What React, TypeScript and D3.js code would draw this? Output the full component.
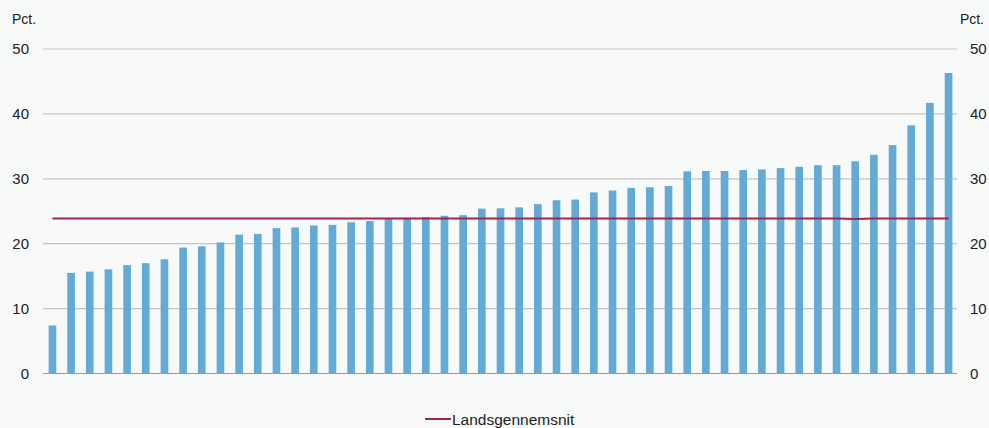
import React from "react";
import * as d3 from "d3";

const W = 989;
const H = 428;

const values: number[] = [
  7.4, 15.5, 15.7, 16.05, 16.7, 17.0, 17.6, 19.4, 19.6, 20.2,
  21.4, 21.5, 22.4, 22.5, 22.8, 22.9, 23.3, 23.5, 23.9, 24.0,
  24.1, 24.3, 24.4, 25.4, 25.45, 25.6, 26.1, 26.7, 26.8, 27.9,
  28.2, 28.6, 28.7, 28.9, 31.15, 31.2, 31.2, 31.35, 31.45, 31.65,
  31.85, 32.1, 32.1, 32.7, 33.7, 35.2, 38.25, 41.7, 46.3,
];
const average: number[] = values.map((_, i) => (i === 43 ? 23.8 : 23.9));
const categories: string[] = values.map((_, i) => `K${i + 1}`);
const yTicks: number[] = [0, 10, 20, 30, 40, 50];
const unitLabel = "Pct.";
const legendLabel = "Landsgennemsnit";

const BAR = "#64aad6";
const LINE = "#a6244c";
const GRID = "#c4c4c4";
const FONT = "'Liberation Sans', Arial, Helvetica, sans-serif";

export default function App() {
  const left = 43;
  const right = 958;
  const top = 49;
  const bottom = 373.5;
  const x = d3.scaleBand<string>().domain(categories).range([left, right]).paddingInner(0.59).paddingOuter(0.3);
  const y = d3.scaleLinear().domain([0, 50]).range([bottom, top]);
  const line = d3
    .line<number>()
    .x((_, i) => (x(categories[i]) as number) + x.bandwidth() / 2)
    .y((d) => y(d));

  return (
    <svg
      width={W}
      height={H}
      style={{ position: "absolute", left: 0, top: 0, background: "#f8f9f9", fontFamily: FONT }}
    >
      <rect x={0} y={0} width={W} height={H} fill="#f8f9f9" />
      {yTicks.map((t) => (
        <g key={t}>
          {t !== 0 && (
            <line x1={left} x2={right - 1} y1={y(t)} y2={y(t)} stroke={GRID} strokeWidth={1.2} />
          )}
          <text x={29} y={y(t) + 5} fontSize={15} textAnchor="end" fill="#222">
            {t}
          </text>
          <text x={970} y={y(t) + 5} fontSize={15} textAnchor="start" fill="#222">
            {t}
          </text>
        </g>
      ))}
      <text x={12} y={24} fontSize={14} fill="#222">
        {unitLabel}
      </text>
      <text x={984} y={24} fontSize={14} fill="#222" textAnchor="end">
        {unitLabel}
      </text>
      {values.map((v, i) => (
        <rect
          key={categories[i]}
          x={x(categories[i])}
          y={y(v)}
          width={x.bandwidth()}
          height={y(0) - y(v)}
          fill={BAR}
        />
      ))}
      <line x1={left} x2={right - 1} y1={y(0)} y2={y(0)} stroke="#9a9a9a" strokeWidth={1.2} />
      <path d={line(average) ?? ""} fill="none" stroke={LINE} strokeWidth={2} />
      <line x1={425} x2={451} y1={419} y2={419} stroke={LINE} strokeWidth={2} />
      <text x={452} y={425} fontSize={15.5} fill="#222">
        {legendLabel}
      </text>
    </svg>
  );
}
